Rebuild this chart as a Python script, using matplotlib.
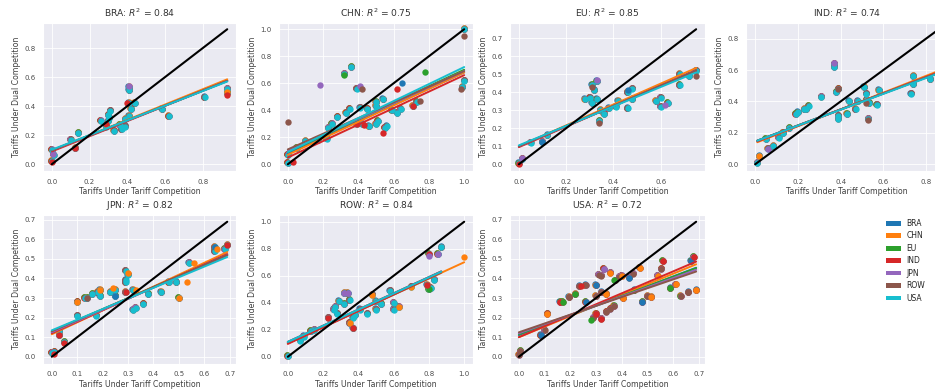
import numpy as np
import matplotlib
matplotlib.use("Agg")
import matplotlib.pyplot as plt
import seaborn as sns
from matplotlib.transforms import ScaledTranslation
from matplotlib.patches import Patch

sns.set_style("darkgrid")
plt.rcParams['font.family'] = ['DejaVu Sans']

SERIES = ["BRA", "CHN", "EU", "IND", "JPN", "ROW", "USA"]
COLORS = ["#1f77b4", "#ff7f0e", "#2ca02c", "#d62728", "#9467bd", "#8c564b", "#17becf"]
PANELS = ["BRA", "CHN", "EU", "IND", "JPN", "ROW", "USA"]
R2 = [0.84, 0.75, 0.85, 0.74, 0.82, 0.84, 0.72]

# ---------------- BRA ----------------
BRA_x = [0.0, 0.01, 0.0, 0.125, 0.10, 0.14, 0.26, 0.30, 0.31, 0.305, 0.30, 0.29, 0.33, 0.36,
         0.39, 0.41, 0.42, 0.39, 0.37, 0.41, 0.41, 0.41, 0.44, 0.585, 0.62, 0.81, 0.93, 0.93]
BRA_y = [0.02, 0.065, 0.10, 0.11, 0.17, 0.215, 0.30, 0.34, 0.37, 0.32, 0.30, 0.26, 0.23, 0.27,
         0.31, 0.33, 0.38, 0.26, 0.24, 0.53, 0.51, 0.42, 0.42, 0.378, 0.33, 0.46, 0.52, 0.49]
BRA_extra = [(3, 0.125, 0.11), (3, 0.29, 0.28), (3, 0.40, 0.42), (4, 0.005, 0.07), (3, 0.0, 0.015),
             (4, 0.41, 0.54), (1, 0.93, 0.50), (3, 0.93, 0.48)]
BRA_fit_a = [0.095, 0.095, 0.095, 0.088, 0.095, 0.095, 0.100]
BRA_fit_b = [0.515, 0.527, 0.515, 0.523, 0.515, 0.515, 0.505]
BRA_xticks = [0.0, 0.2, 0.4, 0.6, 0.8]
BRA_yticks = [0.0, 0.2, 0.4, 0.6, 0.8]

# ---------------- CHN ----------------
CHN_x = [0.0, 0.0, 0.05, 0.10, 0.17, 0.22, 0.23, 0.25, 0.28, 0.32, 0.36, 0.33, 0.35, 0.39,
         0.41, 0.39, 0.42, 0.45, 0.46, 0.50, 0.50, 0.51, 0.50, 0.54, 0.55, 0.56, 0.59, 0.62,
         0.64, 0.71, 0.73, 0.99, 1.0, 1.0]
CHN_y = [0.01, 0.07, 0.12, 0.17, 0.18, 0.19, 0.27, 0.30, 0.35, 0.67, 0.72, 0.38, 0.41, 0.56,
         0.42, 0.30, 0.30, 0.41, 0.28, 0.43, 0.46, 0.32, 0.30, 0.48, 0.27, 0.28, 0.40, 0.38,
         0.41, 0.43, 0.46, 0.57, 0.62, 1.0]
CHN_extra = [(5, 0.0, 0.31), (4, 0.18, 0.59), (2, 0.32, 0.66), (4, 0.41, 0.58), (5, 0.42, 0.56),
             (3, 0.54, 0.23), (3, 0.62, 0.56), (0, 0.65, 0.60), (5, 0.75, 0.47), (2, 0.78, 0.68),
             (5, 1.0, 0.95), (5, 0.98, 0.56), (3, 0.39, 0.30), (3, 0.43, 0.29), (3, 0.71, 0.43),
             (3, 0.03, 0.02)]
CHN_fit_a = [0.08, 0.07, 0.09, 0.05, 0.10, 0.11, 0.09]
CHN_fit_b = [0.60, 0.61, 0.61, 0.61, 0.59, 0.58, 0.63]
CHN_xticks = [0.0, 0.2, 0.4, 0.6, 0.8, 1.0]
CHN_yticks = [0.0, 0.2, 0.4, 0.6, 0.8, 1.0]

# ---------------- EU ----------------
EU_x = [0.0, 0.015, 0.05, 0.10, 0.12, 0.28, 0.30, 0.31, 0.32, 0.33, 0.31, 0.33, 0.345, 0.34,
        0.36, 0.38, 0.41, 0.42, 0.46, 0.48, 0.46, 0.48, 0.58, 0.60, 0.60, 0.63, 0.68, 0.68,
        0.72, 0.75]
EU_y = [0.005, 0.03, 0.12, 0.125, 0.16, 0.36, 0.37, 0.34, 0.41, 0.46, 0.44, 0.36, 0.30, 0.24,
        0.28, 0.31, 0.32, 0.35, 0.40, 0.42, 0.31, 0.36, 0.35, 0.32, 0.37, 0.34, 0.50, 0.44,
        0.49, 0.52]
EU_extra = [(3, 0.0, 0.0), (4, 0.015, 0.035), (0, 0.10, 0.125), (5, 0.31, 0.43), (4, 0.33, 0.47),
            (5, 0.34, 0.23), (0, 0.46, 0.41), (5, 0.75, 0.49), (4, 0.62, 0.33)]
EU_fit_a = [0.100, 0.100, 0.100, 0.095, 0.100, 0.100, 0.105]
EU_fit_b = [0.56, 0.58, 0.56, 0.57, 0.56, 0.56, 0.54]
EU_xticks = [0.0, 0.2, 0.4, 0.6]
EU_yticks = [0.0, 0.1, 0.2, 0.3, 0.4, 0.5, 0.6, 0.7]

# ---------------- IND ----------------
IND_x = [0.01, 0.02, 0.06, 0.085, 0.05, 0.11, 0.13, 0.16, 0.19, 0.20, 0.23, 0.25, 0.24, 0.31,
         0.37, 0.37, 0.39, 0.38, 0.39, 0.39, 0.43, 0.44, 0.47, 0.48, 0.52, 0.51, 0.52, 0.53,
         0.535, 0.57, 0.58, 0.73, 0.74, 0.74, 0.82, 0.86]
IND_y = [0.01, 0.05, 0.10, 0.115, 0.16, 0.17, 0.20, 0.23, 0.32, 0.33, 0.35, 0.37, 0.35, 0.43,
         0.64, 0.62, 0.48, 0.46, 0.31, 0.29, 0.32, 0.40, 0.35, 0.40, 0.41, 0.49, 0.45, 0.29,
         0.39, 0.38, 0.47, 0.45, 0.56, 0.51, 0.54, 0.53]
IND_extra = [(1, 0.02, 0.05), (4, 0.06, 0.10), (4, 0.37, 0.645), (5, 0.39, 0.48), (5, 0.52, 0.39),
             (5, 0.53, 0.28)]
IND_fit_a = [0.145, 0.135, 0.145, 0.140, 0.145, 0.145, 0.145]
IND_fit_b = [0.51, 0.535, 0.51, 0.52, 0.51, 0.51, 0.505]
IND_xticks = [0.0, 0.2, 0.4, 0.6, 0.8]
IND_yticks = [0.0, 0.2, 0.4, 0.6, 0.8]

# ---------------- JPN ----------------
JPN_x = [0.0, 0.01, 0.03, 0.05, 0.03, 0.10, 0.10, 0.13, 0.14, 0.16, 0.18, 0.19, 0.19, 0.175,
         0.23, 0.25, 0.25, 0.29, 0.29, 0.29, 0.30, 0.29, 0.32, 0.32, 0.33, 0.36, 0.38, 0.43,
         0.46, 0.49, 0.50, 0.54, 0.64, 0.64, 0.69, 0.68]
JPN_y = [0.02, 0.025, 0.11, 0.075, 0.13, 0.28, 0.21, 0.30, 0.30, 0.32, 0.33, 0.31, 0.34, 0.21,
         0.33, 0.34, 0.31, 0.38, 0.39, 0.44, 0.42, 0.33, 0.34, 0.24, 0.25, 0.27, 0.32, 0.33,
         0.38, 0.38, 0.30, 0.48, 0.56, 0.54, 0.57, 0.55]
JPN_extra = [(3, 0.03, 0.11), (3, 0.05, 0.07), (3, 0.01, 0.015), (1, 0.10, 0.28), (1, 0.19, 0.34),
             (0, 0.25, 0.31), (3, 0.29, 0.33), (3, 0.69, 0.57), (1, 0.50, 0.30), (1, 0.53, 0.38),
             (1, 0.56, 0.48), (1, 0.33, 0.34), (0, 0.64, 0.56), (1, 0.65, 0.55), (5, 0.14, 0.30),
             (1, 0.24, 0.35), (1, 0.30, 0.43)]
JPN_fit_a = [0.125, 0.115, 0.130, 0.120, 0.125, 0.130, 0.135]
JPN_fit_b = [0.572, 0.609, 0.565, 0.587, 0.572, 0.565, 0.543]
JPN_xticks = [0.0, 0.1, 0.2, 0.3, 0.4, 0.5, 0.6, 0.7]
JPN_yticks = [0.0, 0.1, 0.2, 0.3, 0.4, 0.5, 0.6, 0.7]

# ---------------- ROW ----------------
ROW_x = [0.0, 0.07, 0.09, 0.13, 0.15, 0.23, 0.26, 0.27, 0.28, 0.29, 0.32, 0.34, 0.32, 0.35,
         0.35, 0.37, 0.37, 0.38, 0.41, 0.45, 0.48, 0.50, 0.53, 0.50, 0.58, 0.60, 0.60, 0.63,
         0.70, 0.79, 0.80, 0.81, 0.83, 0.80, 0.85, 0.87]
ROW_y = [0.005, 0.12, 0.15, 0.19, 0.20, 0.29, 0.35, 0.37, 0.32, 0.41, 0.47, 0.47, 0.39, 0.42,
         0.25, 0.21, 0.29, 0.31, 0.35, 0.32, 0.46, 0.41, 0.39, 0.35, 0.49, 0.40, 0.35, 0.37,
         0.52, 0.53, 0.50, 0.51, 0.57, 0.76, 0.76, 0.81]
ROW_extra = [(3, 0.23, 0.29), (4, 0.32, 0.47), (4, 0.34, 0.47), (1, 0.35, 0.25), (3, 0.37, 0.21),
             (1, 0.48, 0.46), (1, 0.63, 0.37), (1, 0.70, 0.52), (2, 0.80, 0.50), (3, 0.80, 0.76),
             (4, 0.85, 0.76), (1, 1.0, 0.74), (3, 0.79, 0.53), (4, 0.80, 0.75)]
ROW_fit_a = [0.100, 0.100, 0.105, 0.095, 0.110, 0.110, 0.110]
ROW_fit_b = [0.60, 0.60, 0.60, 0.61, 0.60, 0.60, 0.598]
ROW_xticks = [0.0, 0.2, 0.4, 0.6, 0.8, 1.0]
ROW_yticks = [0.0, 0.2, 0.4, 0.6, 0.8, 1.0]

# ---------------- USA ----------------
USA_x = [0.0, 0.005, 0.085, 0.10, 0.11, 0.16, 0.17, 0.195, 0.22, 0.235, 0.26, 0.26, 0.30, 0.31,
         0.32, 0.33, 0.30, 0.32, 0.34, 0.29, 0.30, 0.32, 0.34, 0.355, 0.37, 0.355, 0.375, 0.39,
         0.40, 0.405, 0.43, 0.445, 0.47, 0.45, 0.48, 0.50, 0.515, 0.54, 0.555, 0.56, 0.59,
         0.61, 0.63, 0.66, 0.67, 0.68, 0.69]
USA_y = [0.01, 0.03, 0.11, 0.135, 0.22, 0.28, 0.28, 0.305, 0.32, 0.36, 0.365, 0.28, 0.365, 0.42,
         0.415, 0.45, 0.31, 0.33, 0.32, 0.20, 0.22, 0.195, 0.23, 0.245, 0.26, 0.43, 0.39, 0.41,
         0.415, 0.30, 0.405, 0.425, 0.455, 0.34, 0.28, 0.31, 0.305, 0.415, 0.45, 0.49, 0.35,
         0.37, 0.31, 0.33, 0.49, 0.51, 0.34]
USA_extra = [(0, 0.085, 0.11), (1, 0.11, 0.22), (5, 0.195, 0.305), (0, 0.26, 0.28), (1, 0.34, 0.32),
             (3, 0.32, 0.195), (1, 0.355, 0.43), (1, 0.40, 0.415), (1, 0.405, 0.30), (0, 0.43, 0.405),
             (1, 0.47, 0.455), (1, 0.515, 0.305), (1, 0.54, 0.415), (3, 0.56, 0.49), (0, 0.67, 0.49),
             (3, 0.68, 0.51), (1, 0.69, 0.34), (4, 0.33, 0.45), (3, 0.16, 0.28), (2, 0.17, 0.28),
             (3, 0.24, 0.36), (2, 0.22, 0.32), (0, 0.30, 0.365), (2, 0.37, 0.39), (2, 0.28, 0.19),
             (3, 0.30, 0.22), (2, 0.45, 0.34), (0, 0.48, 0.28), (2, 0.59, 0.35), (1, 0.61, 0.37),
             (5, 0.66, 0.33)]
USA_fit_a = [0.110, 0.100, 0.115, 0.100, 0.120, 0.125, None]
USA_fit_b = [0.50, 0.54, 0.49, 0.56, 0.47, 0.45, None]
USA_xticks = [0.0, 0.1, 0.2, 0.3, 0.4, 0.5, 0.6, 0.7]
USA_yticks = [0.0, 0.1, 0.2, 0.3, 0.4, 0.5, 0.6, 0.7]

PANEL_DATA = {
    "BRA": (BRA_x, BRA_y, BRA_extra, BRA_fit_a, BRA_fit_b, BRA_xticks, BRA_yticks),
    "CHN": (CHN_x, CHN_y, CHN_extra, CHN_fit_a, CHN_fit_b, CHN_xticks, CHN_yticks),
    "EU": (EU_x, EU_y, EU_extra, EU_fit_a, EU_fit_b, EU_xticks, EU_yticks),
    "IND": (IND_x, IND_y, IND_extra, IND_fit_a, IND_fit_b, IND_xticks, IND_yticks),
    "JPN": (JPN_x, JPN_y, JPN_extra, JPN_fit_a, JPN_fit_b, JPN_xticks, JPN_yticks),
    "ROW": (ROW_x, ROW_y, ROW_extra, ROW_fit_a, ROW_fit_b, ROW_xticks, ROW_yticks),
    "USA": (USA_x, USA_y, USA_extra, USA_fit_a, USA_fit_b, USA_xticks, USA_yticks),
}

W, H = 935, 390
fig = plt.figure(figsize=(W / 100, H / 100), dpi=100)

col_left = [43, 279, 510, 746]
col_w = [193, 194, 195, 202]
row_bottom = [171, 363.5]
ax_h = 148.5

for k, name in enumerate(PANELS):
    r, c = divmod(k, 4)
    left = col_left[c] / W
    bottom = (H - row_bottom[r]) / H
    ax = fig.add_axes([left, bottom, col_w[c] / W, ax_h / H])
    xs, ys, extra, fa, fb, xt, yt = PANEL_DATA[name]
    xs = np.array(xs); ys = np.array(ys)

    active = [i for i in range(7) if fa[i] is not None]
    # stacked series markers (tiny display offset so overlapping series peek out)
    for j, i in enumerate(active):
        off = (len(active) - 1 - j)
        tr = ax.transData + ScaledTranslation(-0.0011 * off, 0.0017 * off, fig.dpi_scale_trans)
        ax.scatter(xs, ys, s=21, color=COLORS[i], alpha=1.0, linewidths=0, transform=tr, zorder=2)
    for (i, ex, ey) in extra:
        ax.scatter([ex], [ey], s=21, color=COLORS[i], alpha=1.0, linewidths=0, zorder=3)

    # regression lines
    for i in active:
        sx = list(xs) + [e[1] for e in extra if e[0] == i]
        x0, x1 = min(sx), max(sx)
        xx = np.array([x0, x1])
        ax.plot(xx, fa[i] + fb[i] * xx, color=COLORS[i], lw=1.4, zorder=4)

    allx = list(xs) + [e[1] for e in extra]
    m = max(allx)
    ax.plot([0, m], [0, m], color="black", lw=1.5, zorder=5)

    ax.set_xticks(xt)
    ax.set_yticks(yt)
    ax.set_xticklabels([f"{v:.1f}" for v in xt])
    ax.set_yticklabels([f"{v:.1f}" for v in yt])
    ax.margins(0.05)
    ax.tick_params(labelsize=5, colors="0.3", pad=2)
    ax.grid(color="white", lw=0.6)
    ax.set_xlabel("Tariffs Under Tariff Competition", fontsize=5.6, color="0.25", labelpad=2)
    ax.set_ylabel("Tariffs Under Dual Competition", fontsize=5.6, color="0.25", labelpad=2)
    ax.set_title(f"{name}: $R^2$ = {R2[k]:.2f}", fontsize=6.6, color="0.2", pad=4)

handles = [Patch(facecolor=COLORS[i], edgecolor="none") for i in range(7)]
fig.legend(handles, SERIES, loc="upper left", bbox_to_anchor=(886 / W, 1 - 219 / H),
           frameon=False, fontsize=5.5, handlelength=2.0, handleheight=0.6,
           labelspacing=0.45, handletextpad=0.7, borderaxespad=0, borderpad=0)

fig.savefig("out.png", dpi=100)
